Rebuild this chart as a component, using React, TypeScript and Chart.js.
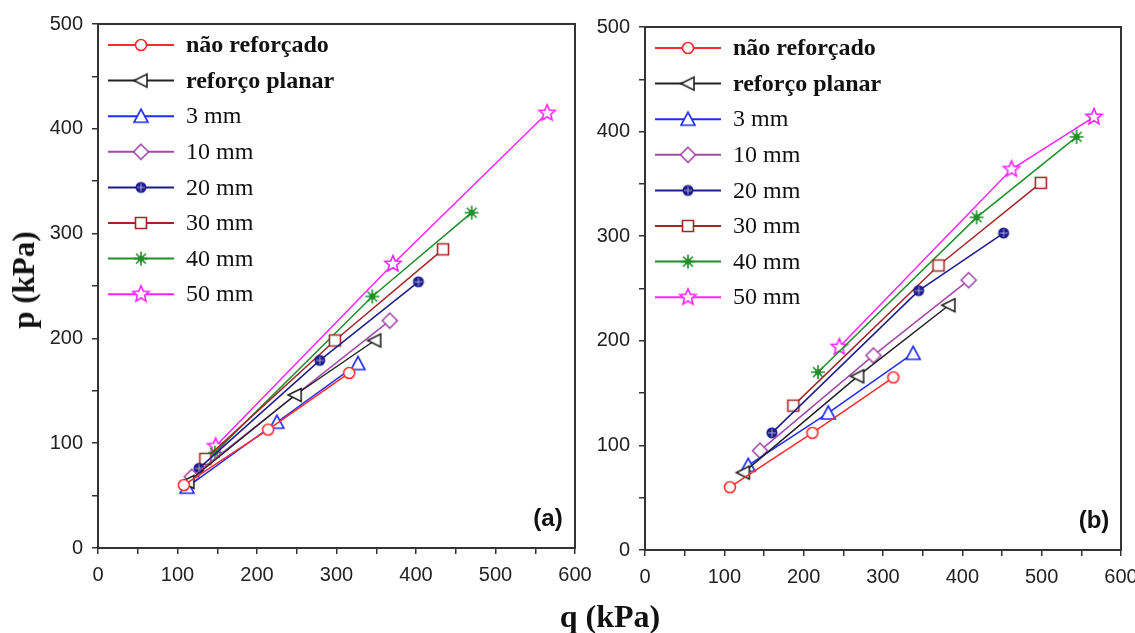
import React, { useEffect, useRef } from 'react';
import { Chart, registerables } from 'chart.js';

Chart.register(...registerables);

// ---------- data ----------
const seriesNames = ['não reforçado', 'reforço planar', '3 mm', '10 mm', '20 mm', '30 mm', '40 mm', '50 mm'];
const seriesColors = ['#ff2a2a', '#222222', '#1f2bff', '#a24aa8', '#1c1c8c', '#a32626', '#1f8f2a', '#ff22ff'];
const seriesMarkers = ['circle', 'triLeft', 'triUp', 'diamond', 'dotCross', 'square', 'asterisk', 'star'];

const xTicks = [0, 100, 200, 300, 400, 500, 600];
const yTicks = [0, 100, 200, 300, 400, 500];

// panel (a): q (kPa) and p (kPa)
const qA_nr = [108, 214, 316];
const pA_nr = [60, 113, 167];
const qA_rp = [113, 248, 348];
const pA_rp = [63, 146, 198];
const qA_3 = [112, 225, 327];
const pA_3 = [58, 120, 176];
const qA_10 = [118, 367];
const pA_10 = [68, 217];
const qA_20 = [127, 279, 403];
const pA_20 = [76, 179, 254];
const qA_30 = [135, 298, 434];
const pA_30 = [85, 198, 285];
const qA_40 = [147, 345, 470];
const pA_40 = [91, 240, 320];
const qA_50 = [148, 371, 565];
const pA_50 = [97, 271, 415];

// panel (b)
const qB_nr = [107, 211, 313];
const pB_nr = [60, 112, 165];
const qB_rp = [124, 268, 383];
const pB_rp = [74, 166, 234];
const qB_3 = [130, 231, 338];
const pB_3 = [81, 131, 188];
const qB_10 = [145, 288, 408];
const pB_10 = [95, 186, 258];
const qB_20 = [160, 345, 452];
const pB_20 = [112, 248, 303];
const qB_30 = [187, 370, 499];
const pB_30 = [138, 272, 351];
const qB_40 = [218, 418, 544];
const pB_40 = [170, 318, 395];
const qB_50 = [245, 462, 566];
const pB_50 = [194, 364, 414];

const panelA_q = [qA_nr, qA_rp, qA_3, qA_10, qA_20, qA_30, qA_40, qA_50];
const panelA_p = [pA_nr, pA_rp, pA_3, pA_10, pA_20, pA_30, pA_40, pA_50];
const panelB_q = [qB_nr, qB_rp, qB_3, qB_10, qB_20, qB_30, qB_40, qB_50];
const panelB_p = [pB_nr, pB_rp, pB_3, pB_10, pB_20, pB_30, pB_40, pB_50];

// ---------- markers ----------
function makeMarker(kind: string, color: string): HTMLCanvasElement {
  const s = 22;
  const c = document.createElement('canvas');
  c.width = s;
  c.height = s;
  const ctx = c.getContext('2d')!;
  ctx.translate(s / 2, s / 2);
  ctx.lineWidth = 1.6;
  ctx.strokeStyle = color;
  ctx.fillStyle = '#ffffff';
  ctx.beginPath();
  switch (kind) {
    case 'circle':
      ctx.arc(0, 0, 5.5, 0, Math.PI * 2);
      ctx.fill();
      ctx.stroke();
      break;
    case 'triLeft':
      ctx.moveTo(-7, 0);
      ctx.lineTo(6, -6.5);
      ctx.lineTo(6, 6.5);
      ctx.closePath();
      ctx.fill();
      ctx.stroke();
      break;
    case 'triUp':
      ctx.moveTo(0, -7);
      ctx.lineTo(7, 6);
      ctx.lineTo(-7, 6);
      ctx.closePath();
      ctx.fill();
      ctx.stroke();
      break;
    case 'diamond':
      ctx.moveTo(0, -7.5);
      ctx.lineTo(7.5, 0);
      ctx.lineTo(0, 7.5);
      ctx.lineTo(-7.5, 0);
      ctx.closePath();
      ctx.fill();
      ctx.stroke();
      break;
    case 'dotCross':
      ctx.fillStyle = color;
      ctx.arc(0, 0, 5.5, 0, Math.PI * 2);
      ctx.fill();
      ctx.beginPath();
      ctx.strokeStyle = 'rgba(255,255,255,0.6)';
      ctx.lineWidth = 1;
      ctx.moveTo(-4, 0);
      ctx.lineTo(4, 0);
      ctx.moveTo(0, -4);
      ctx.lineTo(0, 4);
      ctx.stroke();
      break;
    case 'square':
      ctx.rect(-5.5, -5.5, 11, 11);
      ctx.fill();
      ctx.stroke();
      break;
    case 'asterisk':
      for (let k = 0; k < 4; k++) {
        const a = (k * Math.PI) / 4;
        ctx.moveTo(-7 * Math.cos(a), -7 * Math.sin(a));
        ctx.lineTo(7 * Math.cos(a), 7 * Math.sin(a));
      }
      ctx.stroke();
      ctx.beginPath();
      ctx.fillStyle = color;
      ctx.arc(0, 0, 3, 0, Math.PI * 2);
      ctx.fill();
      break;
    case 'star':
      for (let k = 0; k < 10; k++) {
        const r = k % 2 === 0 ? 8.5 : 3.8;
        const a = -Math.PI / 2 + (k * Math.PI) / 5;
        const x = r * Math.cos(a);
        const y = r * Math.sin(a);
        if (k === 0) ctx.moveTo(x, y);
        else ctx.lineTo(x, y);
      }
      ctx.closePath();
      ctx.fill();
      ctx.stroke();
      break;
  }
  return c;
}

// ---------- plugins ----------
const framePlugin = {
  id: 'frame',
  afterDraw(chart: any) {
    const { ctx, chartArea } = chart;
    ctx.save();
    ctx.strokeStyle = '#333333';
    ctx.lineWidth = 2;
    ctx.strokeRect(chartArea.left, chartArea.top, chartArea.right - chartArea.left, chartArea.bottom - chartArea.top);
    ctx.restore();
  },
};

const legendInsidePlugin = {
  id: 'legendInside',
  afterDraw(chart: any, _args: any, opts: any) {
    const { ctx, chartArea } = chart;
    ctx.save();
    chart.data.datasets.forEach((ds: any, i: number) => {
      const y = chartArea.top + opts.top + i * opts.spacing;
      const x0 = chartArea.left + opts.lineStart;
      ctx.strokeStyle = ds.borderColor;
      ctx.lineWidth = 2;
      ctx.beginPath();
      ctx.moveTo(x0, y);
      ctx.lineTo(x0 + opts.lineLen, y);
      ctx.stroke();
      const m = ds.pointStyle as HTMLCanvasElement;
      ctx.drawImage(m, x0 + opts.lineLen / 2 - m.width / 2, y - m.height / 2);
      ctx.fillStyle = '#111111';
      ctx.textBaseline = 'middle';
      ctx.textAlign = 'left';
      ctx.font = i < 2 ? 'bold 24px "Liberation Serif"' : '24px "Liberation Serif"';
      ctx.fillText(ds.label, chartArea.left + opts.textStart, y + 1);
    });
    ctx.restore();
  },
};

const panelLabelPlugin = {
  id: 'panelLabel',
  afterDraw(chart: any, _args: any, opts: any) {
    const { ctx, chartArea } = chart;
    ctx.save();
    ctx.fillStyle = '#111111';
    ctx.font = 'bold 24px "Liberation Sans"';
    ctx.textAlign = 'center';
    ctx.textBaseline = 'middle';
    ctx.fillText(opts.text, chartArea.right - 27, chartArea.bottom - 29);
    ctx.restore();
  },
};

// ---------- chart factory ----------
function buildChart(
  canvas: HTMLCanvasElement,
  qs: number[][],
  ps: number[][],
  cfg: { padLeft: number; padTop: number; padRight: number; yWidth: number; xHeight: number; label: string }
) {
  const datasets = qs.map((q, i) => ({
    label: seriesNames[i],
    data: q.map((x, j) => ({ x, y: ps[i][j] })),
    showLine: true,
    borderColor: seriesColors[i],
    backgroundColor: seriesColors[i],
    borderWidth: 1.5,
    pointStyle: makeMarker(seriesMarkers[i], seriesColors[i]),
    pointRadius: 7,
    tension: 0,
  }));
  const tickFont = { family: '"Liberation Sans"', size: 20 };
  return new Chart(canvas, {
    type: 'scatter',
    data: { datasets },
    plugins: [framePlugin, legendInsidePlugin, panelLabelPlugin],
    options: {
      animation: false,
      responsive: false,
      devicePixelRatio: 1,
      layout: { padding: { left: cfg.padLeft, top: cfg.padTop, right: cfg.padRight, bottom: 0 } },
      plugins: {
        legend: { display: false },
        tooltip: { enabled: false },
        legendInside: { top: 21, spacing: 35.6, lineStart: 10, lineLen: 66, textStart: 88 },
        panelLabel: { text: cfg.label },
      } as any,
      scales: {
        x: {
          type: 'linear',
          min: xTicks[0],
          max: xTicks[xTicks.length - 1],
          afterBuildTicks(scale: any) {
            const t: any[] = [];
            for (let v = xTicks[0]; v <= xTicks[xTicks.length - 1]; v += 50) t.push({ value: v });
            scale.ticks = t;
          },
          afterFit(scale: any) {
            scale.height = cfg.xHeight;
            scale.paddingLeft = 0;
            scale.paddingRight = 0;
          },
          ticks: {
            autoSkip: false,
            maxRotation: 0,
            padding: 9,
            color: '#222222',
            font: tickFont,
            callback: (v: any) => (xTicks.includes(Number(v)) ? String(v) : ''),
          },
          grid: { drawOnChartArea: false, drawTicks: true, tickLength: 6, color: '#333333', lineWidth: 1.5 },
          border: { display: true, color: '#333333', width: 2 },
        },
        y: {
          type: 'linear',
          min: yTicks[0],
          max: yTicks[yTicks.length - 1],
          afterBuildTicks(scale: any) {
            const t: any[] = [];
            for (let v = yTicks[0]; v <= yTicks[yTicks.length - 1]; v += 50) t.push({ value: v });
            scale.ticks = t;
          },
          afterFit(scale: any) {
            scale.width = cfg.yWidth;
            scale.paddingTop = 0;
            scale.paddingBottom = 0;
          },
          ticks: {
            autoSkip: false,
            padding: 9,
            color: '#222222',
            font: tickFont,
            callback: (v: any) => (yTicks.includes(Number(v)) ? String(v) : ''),
          },
          grid: { drawOnChartArea: false, drawTicks: true, tickLength: 6, color: '#333333', lineWidth: 1.5 },
          border: { display: true, color: '#333333', width: 2 },
        },
      },
    } as any,
  });
}

export default function App() {
  const refA = useRef<HTMLCanvasElement>(null);
  const refB = useRef<HTMLCanvasElement>(null);

  useEffect(() => {
    const a = buildChart(refA.current!, panelA_q, panelA_p, {
      padLeft: 40, padTop: 24, padRight: 35, yWidth: 58, xHeight: 52, label: '(a)',
    });
    const b = buildChart(refB.current!, panelB_q, panelB_p, {
      padLeft: 25, padTop: 27, padRight: 14, yWidth: 60, xHeight: 50, label: '(b)',
    });
    return () => {
      a.destroy();
      b.destroy();
    };
  }, []);

  return (
    <div style={{ position: 'fixed', left: 0, top: 0, width: 1135, height: 633, background: '#ffffff', overflow: 'hidden' }}>
      <canvas ref={refA} width={610} height={600} style={{ position: 'absolute', left: 0, top: 0, width: 610, height: 600 }} />
      <canvas ref={refB} width={575} height={600} style={{ position: 'absolute', left: 560, top: 0, width: 575, height: 600 }} />
      <div
        style={{
          position: 'absolute', left: 24, top: 280, transform: 'translate(-50%, -50%) rotate(-90deg)',
          font: 'bold 31px "Liberation Serif"', color: '#111111', whiteSpace: 'nowrap',
        }}
      >
        p (kPa)
      </div>
      <div
        style={{
          position: 'absolute', left: 610, top: 616, transform: 'translate(-50%, -50%)',
          font: 'bold 32px "Liberation Serif"', color: '#111111', whiteSpace: 'nowrap',
        }}
      >
        q (kPa)
      </div>
    </div>
  );
}
